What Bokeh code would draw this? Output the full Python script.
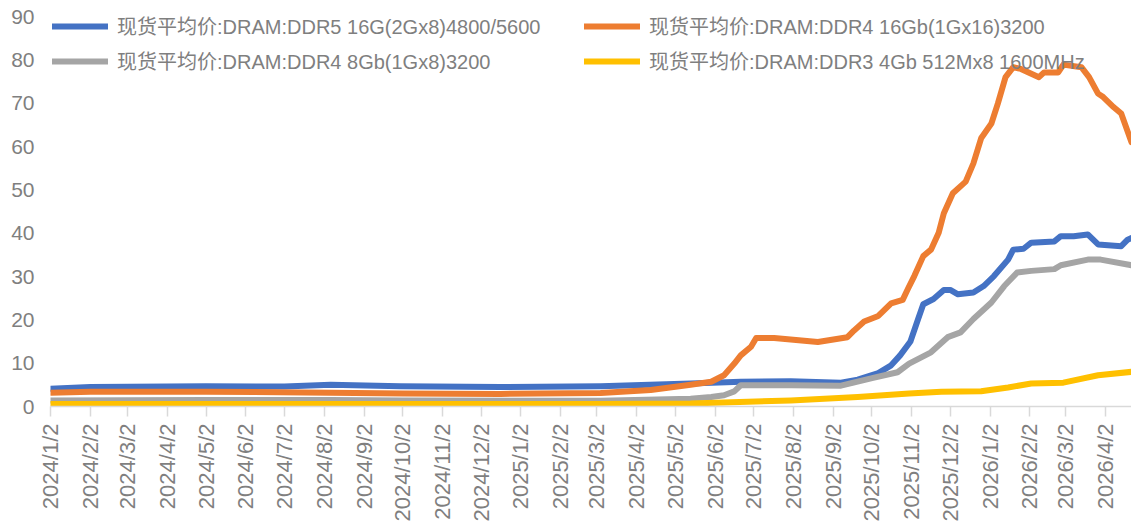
import math
import pandas as pd
from bokeh.plotting import figure
from bokeh.models import Range1d, FixedTicker, Legend, LegendItem
from bokeh.embed import file_html
from bokeh.resources import INLINE

# ---------------- data ----------------
series_names = [
    "现货平均价:DRAM:DDR5 16G(2Gx8)4800/5600",
    "现货平均价:DRAM:DDR4 16Gb(1Gx16)3200",
    "现货平均价:DRAM:DDR4 8Gb(1Gx8)3200",
    "现货平均价:DRAM:DDR3 4Gb 512Mx8 1600MHz",
]
series_colors = ["#4472C4", "#ED7D31", "#A5A5A5", "#FFC000"]

ddr5_dates = ["2024-01-02", "2024-02-02", "2024-05-02", "2024-07-02", "2024-08-07", "2024-09-30",
              "2024-12-17", "2025-03-05", "2025-05-14", "2025-06-22", "2025-07-31", "2025-09-08",
              "2025-09-21", "2025-10-07", "2025-10-17", "2025-10-24", "2025-11-01", "2025-11-07",
              "2025-11-11", "2025-11-19", "2025-11-27", "2025-12-02", "2025-12-08", "2025-12-20",
              "2025-12-28", "2026-01-05", "2026-01-16", "2026-01-20", "2026-01-28", "2026-02-03",
              "2026-02-21", "2026-02-26", "2026-03-08", "2026-03-19", "2026-03-27", "2026-04-14",
              "2026-04-19", "2026-04-22"]
ddr5_values = [4.1, 4.5, 4.7, 4.6, 5.0, 4.7,
               4.5, 4.7, 5.3, 5.7, 5.8, 5.5,
               6.2, 7.7, 9.5, 11.8, 15.0, 20.2,
               23.6, 24.8, 26.9, 26.9, 25.9, 26.3,
               27.8, 30.1, 33.9, 36.2, 36.4, 37.8,
               38.1, 39.3, 39.3, 39.7, 37.4, 37.0,
               38.5, 38.9]

ddr4_16_dates = ["2024-01-02", "2024-02-02", "2024-05-02", "2024-08-07", "2024-10-02", "2024-12-17",
                 "2025-03-05", "2025-04-13", "2025-05-14", "2025-05-30", "2025-06-09", "2025-06-17",
                 "2025-06-22", "2025-06-30", "2025-07-04", "2025-07-18", "2025-08-21", "2025-09-13",
                 "2025-09-18", "2025-09-26", "2025-10-07", "2025-10-17", "2025-10-26", "2025-10-30",
                 "2025-11-04", "2025-11-11", "2025-11-17", "2025-11-23", "2025-11-27", "2025-12-04",
                 "2025-12-14", "2025-12-20", "2025-12-26", "2026-01-03", "2026-01-08", "2026-01-14",
                 "2026-01-20", "2026-01-26", "2026-02-09", "2026-02-13", "2026-02-24", "2026-02-28",
                 "2026-03-14", "2026-03-20", "2026-03-27", "2026-03-31", "2026-04-08", "2026-04-14",
                 "2026-04-22"]
ddr4_16_values = [3.2, 3.4, 3.4, 3.2, 3.0, 2.9,
                  3.1, 3.8, 5.0, 5.7, 7.2, 9.9,
                  11.8, 13.8, 15.8, 15.8, 14.9, 16.0,
                  17.5, 19.6, 20.9, 23.8, 24.6, 27.1,
                  30.1, 34.7, 36.2, 40.1, 44.6, 49.2,
                  51.9, 56.1, 61.9, 65.3, 69.9, 76.0,
                  78.3, 77.9, 76.0, 77.1, 77.1, 78.9,
                  78.3, 76.0, 72.2, 71.4, 69.1, 67.6,
                  61.0]

ddr4_8_dates = ["2024-01-02", "2024-05-02", "2024-08-07", "2024-10-02", "2025-03-05", "2025-05-14",
                "2025-05-30", "2025-06-09", "2025-06-17", "2025-06-22", "2025-07-31", "2025-09-08",
                "2025-10-03", "2025-10-22", "2025-10-31", "2025-11-17", "2025-11-30", "2025-12-10",
                "2025-12-20", "2026-01-03", "2026-01-13", "2026-01-23", "2026-02-03", "2026-02-21",
                "2026-02-26", "2026-03-19", "2026-03-29", "2026-04-22"]
ddr4_8_values = [1.4, 1.5, 1.5, 1.4, 1.3, 1.8,
                 2.2, 2.6, 3.5, 4.9, 4.9, 4.8,
                 6.6, 7.9, 9.9, 12.5, 16.0, 17.1,
                 20.2, 24.0, 27.8, 30.9, 31.3, 31.7,
                 32.6, 33.9, 33.9, 32.6]

ddr3_dates = ["2024-01-02", "2024-08-07", "2025-03-05", "2025-05-14", "2025-07-31", "2025-09-21",
              "2025-10-31", "2025-11-25", "2025-12-26", "2026-01-16", "2026-02-03", "2026-02-28",
              "2026-03-27", "2026-04-22"]
ddr3_values = [0.6, 0.6, 0.6, 0.7, 1.4, 2.2,
               3.0, 3.4, 3.5, 4.4, 5.3, 5.5,
               7.2, 8.0]

month_ticks = ["2024/1/2", "2024/2/2", "2024/3/2", "2024/4/2", "2024/5/2", "2024/6/2",
               "2024/7/2", "2024/8/2", "2024/9/2", "2024/10/2", "2024/11/2", "2024/12/2",
               "2025/1/2", "2025/2/2", "2025/3/2", "2025/4/2", "2025/5/2", "2025/6/2",
               "2025/7/2", "2025/8/2", "2025/9/2", "2025/10/2", "2025/11/2", "2025/12/2",
               "2026/1/2", "2026/2/2", "2026/3/2", "2026/4/2"]
y_ticks = [0, 10, 20, 30, 40, 50, 60, 70, 80, 90]
x_start = "2024-01-02"
x_end = "2026-04-22"

# ---------------- helpers ----------------
t0 = pd.Timestamp(x_start)


def to_days(dates):
    return [int((pd.Timestamp(d.replace("/", "-")) - t0).days) for d in dates]


FONT = "Liberation Sans, Noto Sans CJK SC"
TEXT_COLOR = "#7f7f7f"
AXIS_COLOR = "#d9d9d9"

p = figure(width=1131, height=524, output_backend="svg", toolbar_location=None,
           x_range=Range1d(0, to_days([x_end])[0]), y_range=Range1d(0, 90),
           min_border_left=50, min_border_right=0, min_border_top=16, min_border_bottom=116)
p.outline_line_color = None
p.xgrid.visible = False
p.ygrid.visible = False
p.background_fill_color = "white"
p.border_fill_color = "white"

renderers = []
for dates, vals, col in [(ddr5_dates, ddr5_values, series_colors[0]),
                         (ddr4_16_dates, ddr4_16_values, series_colors[1]),
                         (ddr4_8_dates, ddr4_8_values, series_colors[2]),
                         (ddr3_dates, ddr3_values, series_colors[3])]:
    r = p.line(to_days(dates), vals, line_color=col, line_width=6,
               line_join="round", line_cap="round")
    renderers.append(r)

# x axis
tick_days = to_days(month_ticks)
p.xaxis.ticker = FixedTicker(ticks=tick_days, minor_ticks=[])
p.xaxis.major_label_overrides = {d: lab for d, lab in zip(tick_days, month_ticks)}
p.xaxis.major_label_orientation = math.pi / 2
p.xaxis.axis_line_color = AXIS_COLOR
p.xaxis.axis_line_width = 1.5
p.xaxis.major_tick_line_color = AXIS_COLOR
p.xaxis.major_tick_line_width = 1.5
p.xaxis.major_tick_in = 0
p.xaxis.major_tick_out = 10
p.xaxis.minor_tick_line_color = None
p.xaxis.major_label_standoff = 7
p.xaxis.major_label_text_font = FONT
p.xaxis.major_label_text_font_size = "22px"
p.xaxis.major_label_text_color = TEXT_COLOR

# y axis
p.yaxis.ticker = FixedTicker(ticks=y_ticks, minor_ticks=[])
p.yaxis.axis_line_color = None
p.yaxis.major_tick_line_color = None
p.yaxis.minor_tick_line_color = None
p.yaxis.major_tick_in = 0
p.yaxis.major_tick_out = 0
p.yaxis.major_label_standoff = 16
p.yaxis.major_label_text_font = FONT
p.yaxis.major_label_text_font_size = "21px"
p.yaxis.major_label_text_color = TEXT_COLOR


def make_legend(idx, loc):
    leg = Legend(items=[LegendItem(label=series_names[i], renderers=[renderers[i]]) for i in idx],
                 location=loc, orientation="vertical")
    leg.glyph_width = 56
    leg.glyph_height = 20
    leg.label_height = 20
    leg.spacing = 6
    leg.padding = 0
    leg.margin = 0
    leg.label_standoff = 9
    leg.border_line_color = None
    leg.background_fill_alpha = 0
    leg.label_text_font = FONT
    leg.label_text_font_size = "20px"
    leg.label_text_color = TEXT_COLOR
    return leg


p.add_layout(make_legend([0, 2], (2, 331)))
p.add_layout(make_legend([1, 3], (534, 331)))

open("out.html", "w").write(file_html(p, INLINE))
